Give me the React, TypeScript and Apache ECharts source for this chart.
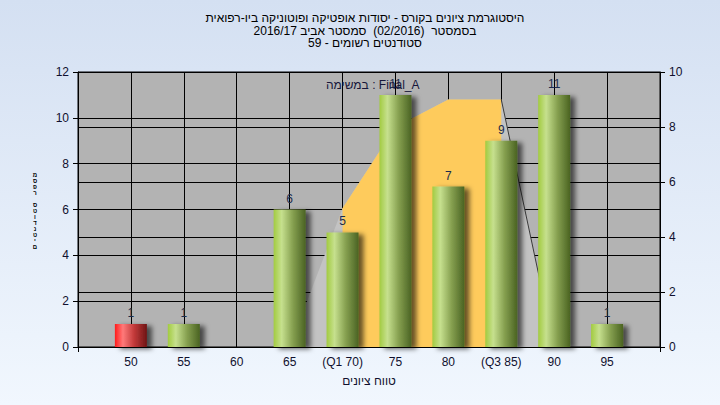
import React, { useEffect, useRef } from "react";
import * as echarts from "echarts";

const categories = ["45", "50", "55", "60", "65", "70", "75", "80", "85", "90", "95", "100"];
const tickLabels = ["", "50", "55", "60", "65", "(Q1 70)", "75", "80", "(Q3 85)", "90", "95", ""];
const counts: (number | null)[] = [null, 1, 1, 0, 6, 5, 11, 7, 9, 11, 1, null];
const curve: (number | null)[] = [null, null, null, null, 0, 5.05, 8.0, 9.0, 9.0, 0, null, null];
const q1Index = 5;
const q3Index = 8;
const failIndex = 1;

const titleLines = [
  "היסטוגרמת ציונים בקורס - יסודות אופטיקה ופוטוניקה ביו-רפואית",
  "בסמסטר  (02/2016)  סמסטר אביב 2016/17",
  "סטודנטים רשומים - 59",
];
const seriesLabel = "במשימה : Final_A";
const xAxisName = "טווח ציונים";
const yAxisName = "מספר סטודנטים";

const FONT = "'Liberation Sans', Arial, 'DejaVu Sans', sans-serif";
const TEXT = "#10102e";

export default function App() {
  const ref = useRef<HTMLDivElement>(null);
  useEffect(() => {
    if (!ref.current) return;
    const chart = echarts.init(ref.current, null, { renderer: "svg" });

    const greenGrad = new echarts.graphic.LinearGradient(0, 0, 1, 0, [
      { offset: 0, color: "#a2cb40" },
      { offset: 0.25, color: "#c6e08e" },
      { offset: 0.6, color: "#86a050" },
      { offset: 1, color: "#4a6322" },
    ]);
    const redGrad = new echarts.graphic.LinearGradient(0, 0, 1, 0, [
      { offset: 0, color: "#ff1c1c" },
      { offset: 0.25, color: "#ff7a7a" },
      { offset: 0.6, color: "#c23a3a" },
      { offset: 1, color: "#6e1414" },
    ]);

    const barData = counts.map((v, i) => ({
      value: v,
      itemStyle: { color: i === failIndex ? redGrad : greenGrad },
    }));
    const outerCurve = curve.slice();
    const bandCurve = curve.map((v, i) => (i >= q1Index && i <= q3Index ? v : null));
    const tailLine = curve.map((v, i) => (i >= q3Index && i <= q3Index + 1 ? v : null));

    chart.setOption({
      animation: false,
      backgroundColor: new echarts.graphic.LinearGradient(0, 0, 0, 1, [
        { offset: 0, color: "#d4e0f2" },
        { offset: 1, color: "#f1f7fe" },
      ]),
      textStyle: { fontFamily: FONT },
      title: {
        text: titleLines.join("\n"),
        left: 360,
        top: 7,
        textAlign: "center",
        textStyle: { fontSize: 12, fontWeight: "normal", color: "#000", lineHeight: 12.5, fontFamily: FONT },
      },
      grid: {
        left: 78,
        right: 60,
        top: 72,
        bottom: 58,
        show: true,
        backgroundColor: "#b3b3b3",
        borderColor: "#000",
        borderWidth: 1,
      },
      xAxis: {
        type: "category",
        data: categories,
        boundaryGap: false,
        name: xAxisName,
        nameLocation: "middle",
        nameGap: 28,
        nameTextStyle: { fontSize: 12, color: TEXT, fontFamily: FONT },
        axisLine: { show: true, lineStyle: { color: "#000", width: 1 } },
        axisTick: {
          show: true,
          length: 5,
          interval: (i: number) => i === 0 || i === categories.length - 1,
          lineStyle: { color: "#000" },
        },
        axisLabel: {
          interval: 0,
          margin: 9,
          fontSize: 12,
          color: TEXT,
          formatter: (_v: string, i: number) => tickLabels[i],
        },
        splitLine: { show: true, interval: 0, lineStyle: { color: "#000", width: 1 } },
      },
      yAxis: [
        {
          type: "value",
          min: 0,
          max: 12,
          interval: 2,
          position: "left",
          axisLine: { show: true, lineStyle: { color: "#000" } },
          axisTick: { show: true, length: 5, lineStyle: { color: "#000" } },
          axisLabel: { fontSize: 12, color: TEXT, margin: 9 },
          splitLine: { show: true, lineStyle: { color: "#000", width: 1 } },
        },
        {
          type: "value",
          min: 0,
          max: 10,
          interval: 2,
          position: "right",
          axisLine: { show: true, lineStyle: { color: "#000" } },
          axisTick: { show: true, length: 5, lineStyle: { color: "#000" } },
          axisLabel: { fontSize: 12, color: TEXT, margin: 9 },
          splitLine: { show: true, lineStyle: { color: "#000", width: 1 } },
        },
      ],
      series: [
        {
          type: "line",
          yAxisIndex: 1,
          data: outerCurve,
          symbol: "none",
          lineStyle: { opacity: 0 },
          areaStyle: { color: "#c3c3c3", opacity: 1 },
          z: 1,
        },
        {
          type: "line",
          yAxisIndex: 1,
          data: bandCurve,
          symbol: "none",
          lineStyle: { opacity: 0 },
          areaStyle: { color: "#fecb5c", opacity: 1 },
          z: 1,
        },
        {
          type: "line",
          yAxisIndex: 1,
          data: tailLine,
          symbol: "none",
          lineStyle: { color: "#3a3a3a", width: 1 },
          z: 1,
        },
        {
          type: "bar",
          yAxisIndex: 0,
          data: barData,
          barWidth: 32,
          z: 3,
          itemStyle: {
            shadowColor: "rgba(0,0,0,0.6)",
            shadowBlur: 5,
            shadowOffsetX: 5,
            shadowOffsetY: 2,
          },
          label: {
            show: true,
            position: "top",
            distance: 5,
            fontSize: 12,
            color: "#1c2c4c",
            formatter: (p: any) => (p.value ? String(p.value) : ""),
          },
        },
      ],
      graphic: [
        {
          type: "text",
          left: 326,
          top: 79,
          z: 10,
          style: { text: seriesLabel, fontSize: 12, fill: "#16163a", fontFamily: FONT },
        },
        {
          type: "text",
          x: 35,
          y: 172,
          z: 10,
          style: {
            text: yAxisName.split("").join("\n"),
            fontSize: 6,
            lineHeight: 6,
            fontWeight: "bold",
            align: "center",
            fill: "#000",
            fontFamily: FONT,
          },
        },
      ],
    });
    return () => chart.dispose();
  }, []);
  return (
    <div
      ref={ref}
      style={{ position: "fixed", left: 0, top: 0, width: 720, height: 405 }}
    />
  );
}
